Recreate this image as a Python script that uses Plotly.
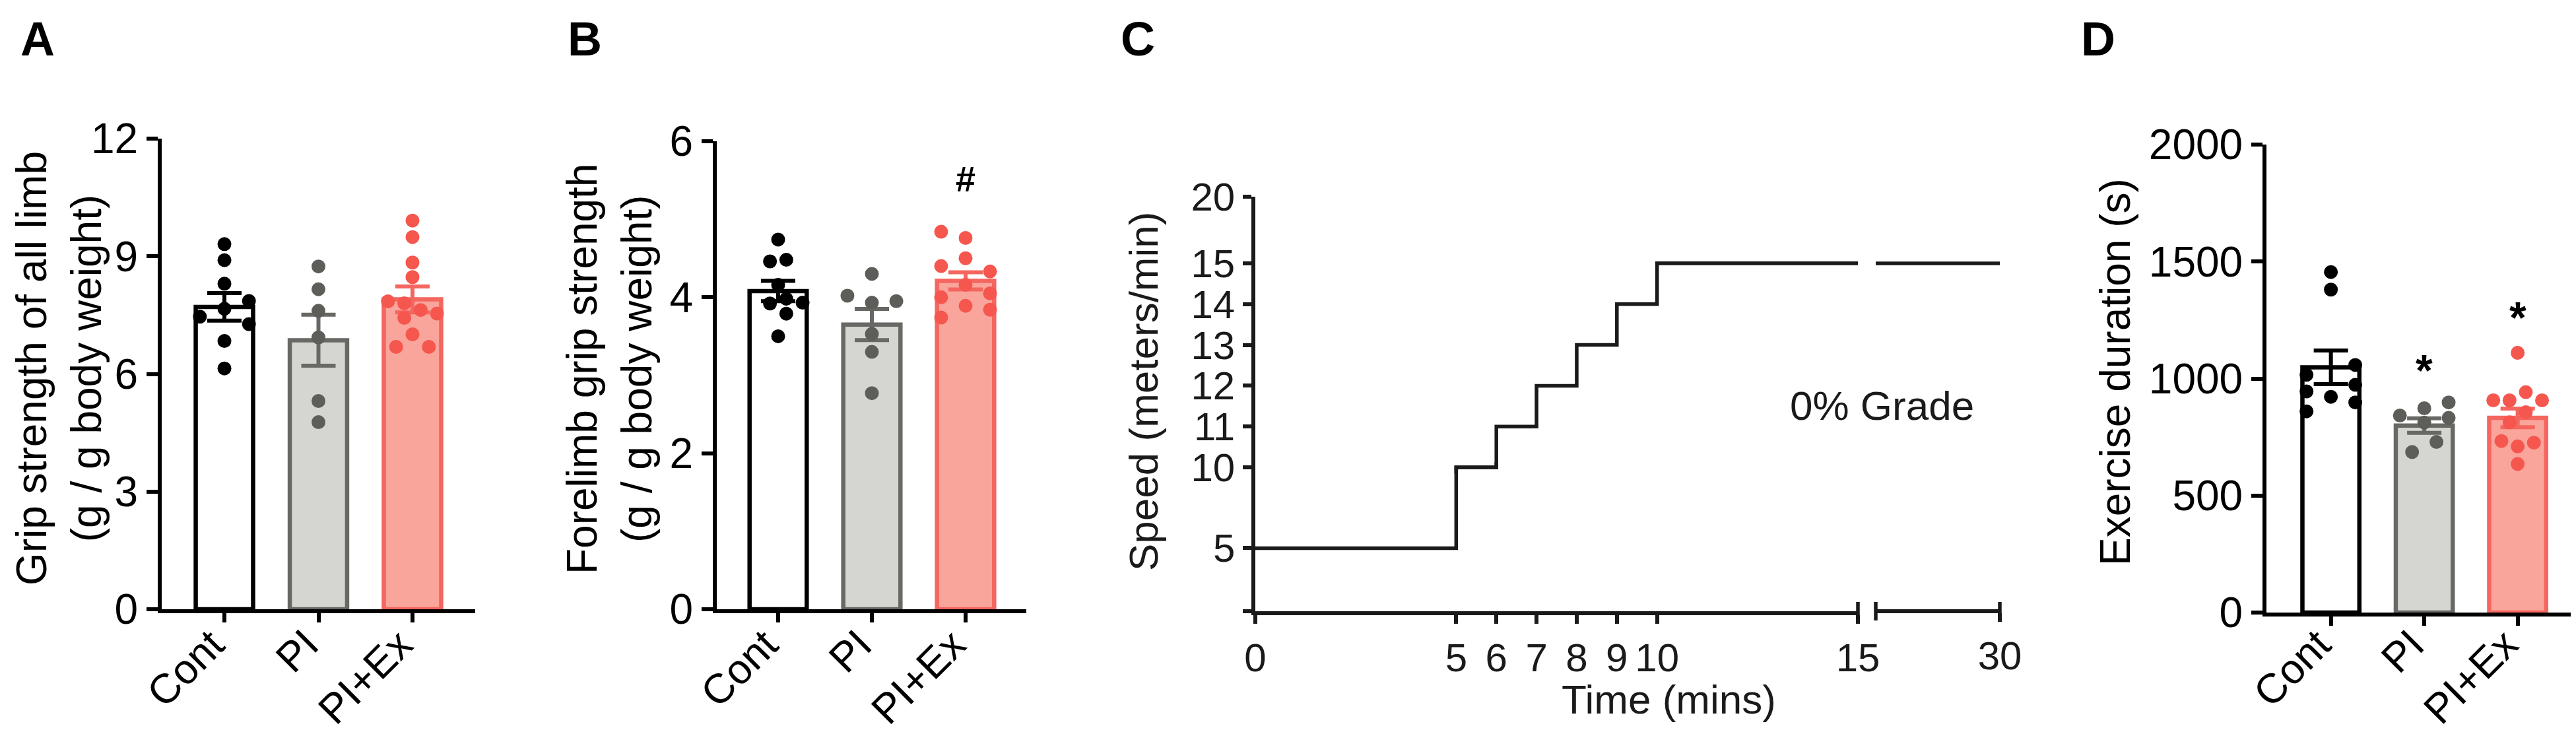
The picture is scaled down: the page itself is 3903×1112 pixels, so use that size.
import plotly.graph_objects as go

# ---------------- data ----------------
groups = ["Cont", "PI", "PI+Ex"]

# A: grip strength of all limb (g / g body weight)
a_means = [7.71, 6.86, 7.90]
a_sems = [0.35, 0.65, 0.33]
a_cont = [9.31, 8.90, 8.30, 7.86, 7.66, 7.46, 7.27, 6.84, 6.14]
a_pi = [8.74, 8.16, 7.61, 6.93, 5.31, 4.77]
a_ex = [9.91, 9.49, 8.84, 8.47, 7.85, 7.80, 7.63, 7.54, 7.43, 7.01, 6.69, 6.69]

# B: forelimb grip strength (g / g body weight)
b_means = [4.08, 3.65, 4.21]
b_sems = [0.13, 0.20, 0.11]
b_cont = [4.74, 4.48, 4.46, 4.16, 3.98, 3.93, 3.92, 3.79, 3.50]
b_pi = [4.30, 4.02, 3.95, 3.93, 3.53, 3.30, 2.77]
b_ex = [4.84, 4.76, 4.50, 4.40, 4.33, 4.16, 4.05, 4.00, 3.89, 3.84, 3.74]

# C: treadmill protocol
time_min = [0, 5, 6, 7, 8, 9, 10, 30]
speed = [5, 10, 11, 12, 13, 14, 15, 15]

# D: exercise duration (s)
d_means = [1048, 799, 832]
d_sems = [72, 31, 40]
d_cont = [1455, 1380, 1058, 1016, 973, 945, 922, 898, 860]
d_pi = [898, 873, 842, 832, 812, 729, 686]
d_ex = [1110, 942, 907, 907, 907, 856, 813, 733, 726, 710, 635]

# horizontal scatter columns of the dots (GraphPad style), in dot half-widths
a_dx = [[0, 0, 0, 3, 0, -3, 3, 0, 0],
        [0, 0, 0, 0, 0, 0],
        [0, 0, 0, 0, -3, -1, 1, 3, -1, 0, -2, 2]]
b_dx = [[0, 1, -1, 0, 1, 3, -1, 1, 0],
        [0, -3, 3, 0, 0, 0, 0],
        [-3, 0, 0, -3, 3, 0, 3, -3, 0, 3, -3]]
d_dx = [[0, 0, 3, -3, 3, -3, 0, 3, -3],
        [3, 0, -3, 3, 0, 1.5, -1.5],
        [0, 1, -3, -1, 3, 1, -1, -2, 2, 0, 0]]

# ---------------- styling ----------------
W, H = 3903, 1112
FONT = "Arial, 'Liberation Sans', sans-serif"
fills = ["#ffffff", "#d5d6d1", "#f9a59b"]
edges = ["#000000", "#686864", "#f4665f"]
dots = ["#000000", "#5d5d59", "#f5564e"]
DX = 0.087


def px(v):
    return v / W


def py(v):
    return 1 - v / H


fig = go.Figure()
ann = []


def bar_panel(xa, ya, means, sems, pts, dx):
    for i in range(3):
        fig.add_trace(go.Bar(
            x=[i], y=[means[i]], width=0.61, xaxis=xa, yaxis=ya,
            marker=dict(color=fills[i], line=dict(color=edges[i], width=6.5)),
            error_y=dict(type="data", array=[sems[i]], color=edges[i],
                         thickness=6, width=26),
            showlegend=False, hoverinfo="skip"))
    for i in range(3):
        fig.add_trace(go.Scatter(
            x=[i + d * DX for d in dx[i]], y=pts[i], mode="markers",
            xaxis=xa, yaxis=ya,
            marker=dict(color=dots[i], size=21, line=dict(width=0)),
            showlegend=False, hoverinfo="skip"))
    # slanted group labels, top-right corner just under each tick
    for i, g in enumerate(groups):
        ann.append(dict(text=g, x=i, xref=xa, y=py(929), yref="paper",
                        xshift=16, textangle=-45, xanchor="right", yanchor="top",
                        font=dict(size=63, family=FONT, color="black")))


bar_panel("x", "y", a_means, a_sems, [a_cont, a_pi, a_ex], a_dx)
bar_panel("x2", "y2", b_means, b_sems, [b_cont, b_pi, b_ex], b_dx)
bar_panel("x5", "y6", d_means, d_sems, [d_cont, d_pi, d_ex], d_dx)

# C: step line drawn in each y segment (each subplot clips it)
for xa, ya in [("x3", "y3"), ("x3", "y4"), ("x3", "y5"), ("x4", "y4")]:
    fig.add_trace(go.Scatter(
        x=time_min, y=speed, mode="lines", line_shape="hv",
        line=dict(color="#1a1a1a", width=5.5), xaxis=xa, yaxis=ya,
        showlegend=False, hoverinfo="skip"))

axis_common = dict(showline=True, linecolor="black", linewidth=6,
                   ticks="outside", tickcolor="black", tickwidth=6,
                   showgrid=False, zeroline=False, automargin=False,
                   tickfont=dict(family=FONT, size=64, color="black"))
c_common = dict(showline=True, linecolor="#1a1a1a", linewidth=5.5,
                ticks="outside", tickcolor="#1a1a1a", tickwidth=5.5, ticklen=13,
                showgrid=False, zeroline=False, automargin=False,
                tickfont=dict(family=FONT, size=60, color="#1a1a1a"))


def cat_x(domain, rng, anchor):
    return dict(axis_common, domain=domain, range=rng, anchor=anchor,
                tickvals=[0, 1, 2], ticklen=14, showticklabels=False)


fig.update_layout(
    template="none",
    width=W, height=H, autosize=False,
    margin=dict(l=0, r=0, t=0, b=0, pad=0),
    paper_bgcolor="white", plot_bgcolor="rgba(0,0,0,0)",
    barmode="overlay", showlegend=False,
    font=dict(family=FONT, color="black"),
    # A
    xaxis=cat_x([px(237), px(712)], [-0.667, 2.667], "y"),
    yaxis=dict(axis_common, domain=[py(915), py(202)], range=[0, 12],
               tickvals=[0, 3, 6, 9, 12], ticklen=17, anchor="x"),
    # B
    xaxis2=cat_x([px(1078), px(1547)], [-0.655, 2.648], "y2"),
    yaxis2=dict(axis_common, domain=[py(915), py(206)], range=[0, 6],
                tickvals=[0, 2, 4, 6], ticklen=17, anchor="x2"),
    # C, broken x axis and segmented y axis
    xaxis3=dict(c_common, domain=[px(1894), px(2807)], range=[0, 15],
                tickvals=[0, 5, 6, 7, 8, 9, 10, 15], anchor="y3"),
    xaxis4=dict(c_common, domain=[px(2834), px(3022)], range=[15, 30],
                tickvals=[30], anchor="free", position=py(918)),
    yaxis3=dict(c_common, domain=[py(918), py(692.6)], range=[1.1, 10.3],
                tickvals=[1.1, 5], ticktext=["", "5"], anchor="x3"),
    yaxis4=dict(c_common, domain=[py(709.3), py(381.7)], range=[9.85, 15.15],
                tickvals=[10, 11, 12, 13, 14, 15], anchor="x3"),
    yaxis5=dict(c_common, domain=[py(391), py(290)], range=[15, 20],
                tickvals=[20], anchor="x3"),
    # D
    xaxis5=cat_x([px(3426), px(3900)], [-0.69, 2.66], "y6"),
    yaxis6=dict(axis_common, domain=[py(920), py(211)], range=[0, 2000],
                tickvals=[0, 500, 1000, 1500, 2000], ticklen=17, anchor="x5"),
)

# axis break marks of panel C
for xref, xv in [("x3 domain", 1), ("x4 domain", 0), ("x4 domain", 1)]:
    fig.add_shape(type="line", xref=xref, x0=xv, x1=xv, yref="paper",
                  ysizemode="pixel", yanchor=py(918), y0=-14, y1=14,
                  line=dict(color="#1a1a1a", width=5.5))

# panel letters
for letter, x in [("A", 49), ("B", 878), ("C", 1716), ("D", 3171)]:
    ann.append(dict(text="<b>%s</b>" % letter, x=px(x), y=py(51),
                    font=dict(size=72, family=FONT, color="black")))
# axis titles
ann.append(dict(text="Grip strength of all limb<br>(g / g body weight)",
                x=px(81), y=py(550), textangle=-90,
                font=dict(size=64, family=FONT, color="black")))
ann.append(dict(text="Forelimb grip strength<br>(g / g body weight)",
                x=px(916), y=py(551), textangle=-90,
                font=dict(size=64, family=FONT, color="black")))
ann.append(dict(text="Speed (meters/min)", x=px(1724), y=py(585), textangle=-90,
                font=dict(size=62, family=FONT, color="#1a1a1a")))
ann.append(dict(text="Time (mins)", x=px(2520), y=py(1051),
                font=dict(size=62, family=FONT, color="#1a1a1a")))
ann.append(dict(text="0% Grade", x=px(2843), y=py(606),
                font=dict(size=62, family=FONT, color="#1a1a1a")))
ann.append(dict(text="Exercise duration (s)", x=px(3197), y=py(556),
                textangle=-90, font=dict(size=64, family=FONT, color="black")))
# significance marks
ann.append(dict(text="<b>#</b>", x=2, y=5.52, xref="x2", yref="y2",
                font=dict(size=54, family=FONT, color="black")))
ann.append(dict(text="<b>*</b>", x=1, y=1081, xref="x5", yref="y6", yshift=-16,
                font=dict(size=66, family=FONT, color="black")))
ann.append(dict(text="<b>*</b>", x=2, y=1307, xref="x5", yref="y6", yshift=-16,
                font=dict(size=66, family=FONT, color="black")))

for a in ann:
    a.setdefault("xref", "paper")
    a.setdefault("yref", "paper")
    a.setdefault("xanchor", "center")
    a.setdefault("yanchor", "middle")
    a.update(showarrow=False)
fig.update_layout(annotations=ann)

fig.write_html("out.html")
